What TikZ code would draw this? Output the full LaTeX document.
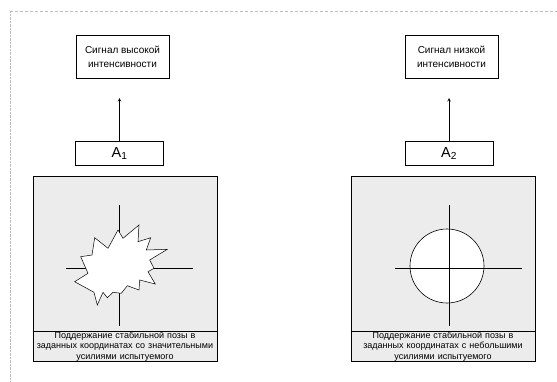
\documentclass[tikz,border=0pt]{standalone}
\usepackage{fontspec}
\setmainfont{Liberation Sans}
\usetikzlibrary{positioning,calc}
\definecolor{panelgray}{RGB}{236,236,236}
\definecolor{framegray}{RGB}{190,190,190}

\begin{document}
\begin{tikzpicture}[
    x=1pt, y=-1pt, >=stealth,
    box/.style={rectangle, draw, line width=0.6pt, inner sep=0pt},
    signal/.style={box, minimum width=93pt, minimum height=43pt, align=center, font=\fontsize{10}{14}\selectfont},
    amp/.style={box, minimum width=88pt, minimum height=24pt, font=\fontsize{14.5}{15}\selectfont},
    panel/.style={box, fill=panelgray, minimum width=184pt, minimum height=185pt},
    caption/.style={align=center, text width=184pt, font=\fontsize{9}{10.5}\selectfont},
    axis/.style={line width=0.6pt}
]
    \useasboundingbox (0,0) rectangle (557,381);

    % Page frame
    \draw[framegray, densely dashed, line width=0.4pt] (10,11) -- (557,11);
    \draw[framegray, densely dotted, line width=0.4pt] (10,11) -- (10,381);

    % Left column
    \node[signal] (sig1) at (122.5,56.5) {Сигнал высокой\\интенсивности};
    \node[amp] (a1) at (119.5,153.5) {A\textsubscript{1}};
    \coordinate (tip1) at (119.5,98);
    \node[panel] (p1) at (125,268.5) {};
    \draw[line width=0.6pt] ($(p1.south west)+(0,-30)$) -- ($(p1.south east)+(0,-30)$);
    \node[caption] (c1) at ($(p1.south)+(0,-15)$) {Поддержание стабильной позы в\\заданных координатах со значительными\\усилиями испытуемого};

    % Cross with burst
    \draw[axis] (119,205) -- (119,326);
    \draw[axis] (66,268) -- (193,268);
    \draw[fill=white, line width=0.5pt]
        (94.7,237.7) -- (108,248.3) -- (118,230) -- (123,238.3) -- (139,225)
        -- (138,241.7) -- (150.7,237.7) -- (146.3,250) -- (167.3,249.3)
        -- (149.7,260) -- (154,268.3) -- (148,271.7) -- (155.3,284)
        -- (139.7,280) -- (139,290) -- (127.3,285.7) -- (121.3,293.3)
        -- (113,292.3) -- (107.3,297.7) -- (103,292.3) -- (97.3,305)
        -- (94,292.3) -- (74.7,281.7) -- (88,273.3) -- (80.7,256.7)
        -- (92,255) -- cycle;

    % Right column
    \node[signal] (sig2) at (451.5,56.5) {Сигнал низкой\\интенсивности};
    \node[amp] (a2) at (449,153.5) {A\textsubscript{2}};
    \coordinate (tip2) at (449,98);
    \node[panel] (p2) at (443,268.5) {};
    \draw[line width=0.6pt] ($(p2.south west)+(0,-30)$) -- ($(p2.south east)+(0,-30)$);
    \node[caption] (c2) at ($(p2.south)+(0,-15)$) {Поддержание стабильной позы в\\заданных координатах с небольшими\\усилиями испытуемого};

    % Circle with cross
    \draw[fill=white, line width=0.6pt] (447,266) circle (37);
    \draw[axis] (449,205) -- (449,326);
    \draw[axis] (395,268) -- (522,268);

    % Arrows
    \draw[->, line width=0.6pt] (a1) -- (tip1);
    \draw[->, line width=0.6pt] (a2) -- (tip2);
\end{tikzpicture}
\end{document}
